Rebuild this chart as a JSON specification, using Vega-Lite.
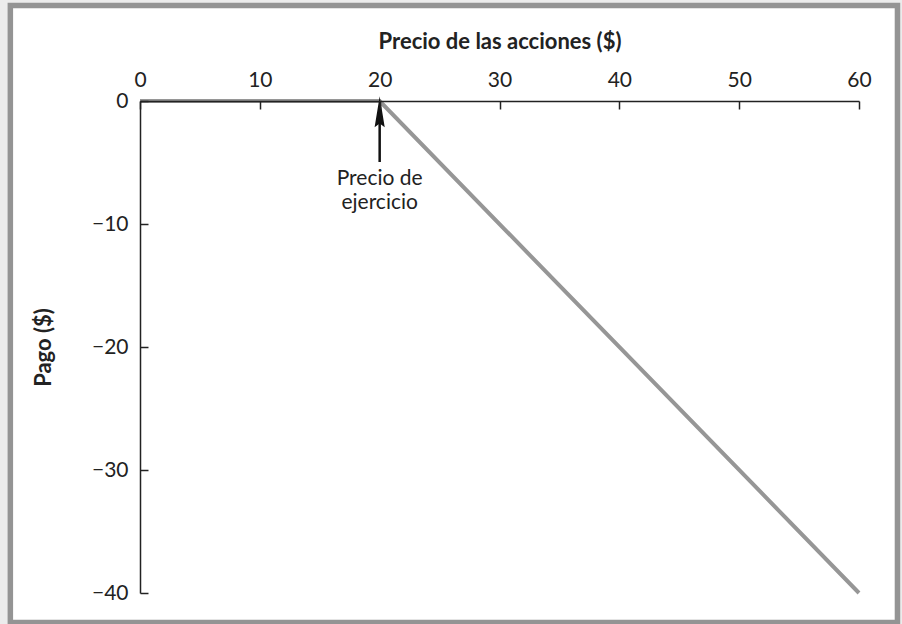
{
  "$schema": "https://vega.github.io/schema/vega-lite/v6.json",
  "width": 719,
  "height": 492,
  "autosize": {"type": "none"},
  "padding": {"left": 140, "top": 101, "right": 43, "bottom": 31},
  "background": "#ececec",
  "config": {
    "view": {"stroke": null},
    "font": "Lato",
    "axis": {
      "grid": false,
      "labelFlush": false,
      "domainColor": "#222222",
      "domainWidth": 1.5,
      "tickColor": "#222222",
      "tickWidth": 1.5,
      "labelFont": "Lato",
      "labelFontSize": 21,
      "labelColor": "#222222",
      "titleFont": "Lato",
      "titleFontSize": 22,
      "titleFontWeight": "bold",
      "titleColor": "#222222"
    }
  },
  "layer": [
    {
      "data": {"values": [{"frame": "marco"}]},
      "mark": {"type": "rect", "fill": "white", "stroke": "#949494", "strokeWidth": 5.5},
      "encoding": {
        "x": {"datum": -10.82, "type": "quantitative"},
        "x2": {"datum": 63.21},
        "y": {"datum": 7.76, "type": "quantitative"},
        "y2": {"datum": -42.4}
      }
    },
    {
      "data": {"values": [
        {"precio": 0, "pago": 0},
        {"precio": 20, "pago": 0},
        {"precio": 60, "pago": -40}
      ]},
      "mark": {"type": "line", "color": "#969696", "strokeWidth": 4},
      "encoding": {
        "x": {
          "field": "precio", "type": "quantitative",
          "scale": {"domain": [0, 60], "nice": false, "zero": false},
          "axis": {"orient": "top", "zindex": 2, "values": [0, 10, 20, 30, 40, 50, 60], "title": "Precio de las acciones ($)", "tickSize": -8, "labelPadding": 19, "titlePadding": 16}
        },
        "y": {
          "field": "pago", "type": "quantitative",
          "scale": {"domain": [-40, 0], "nice": false, "zero": false},
          "axis": {"orient": "left", "zindex": 2, "values": [0, -10, -20, -30, -40], "title": "Pago ($)", "tickSize": -8, "labelPadding": 20, "titlePadding": 36}
        }
      }
    },
    {
      "data": {"values": [{"precio": 20, "desde": -1.54, "hasta": -4.96}]},
      "mark": {"type": "rule", "color": "#111111", "strokeWidth": 2.5},
      "encoding": {
        "x": {"field": "precio", "type": "quantitative"},
        "y": {"field": "desde", "type": "quantitative"},
        "y2": {"field": "hasta"}
      }
    },
    {
      "data": {"values": [{"precio": 20, "pago": -1.14}]},
      "mark": {"type": "point", "filled": true, "color": "#111111", "opacity": 1, "size": 1400, "shape": "M0,-1L0.27,0.65L0,0.45L-0.27,0.65Z"},
      "encoding": {
        "x": {"field": "precio", "type": "quantitative"},
        "y": {"field": "pago", "type": "quantitative"}
      }
    },
    {
      "data": {"values": [{"precio": 20, "pago": -6.83, "nota": "Precio de\nejercicio"}]},
      "mark": {"type": "text", "font": "Lato", "fontSize": 21, "color": "#222222", "align": "center", "baseline": "alphabetic", "lineBreak": "\n", "lineHeight": 24},
      "encoding": {
        "x": {"field": "precio", "type": "quantitative"},
        "y": {"field": "pago", "type": "quantitative"},
        "text": {"field": "nota"}
      }
    }
  ]
}
